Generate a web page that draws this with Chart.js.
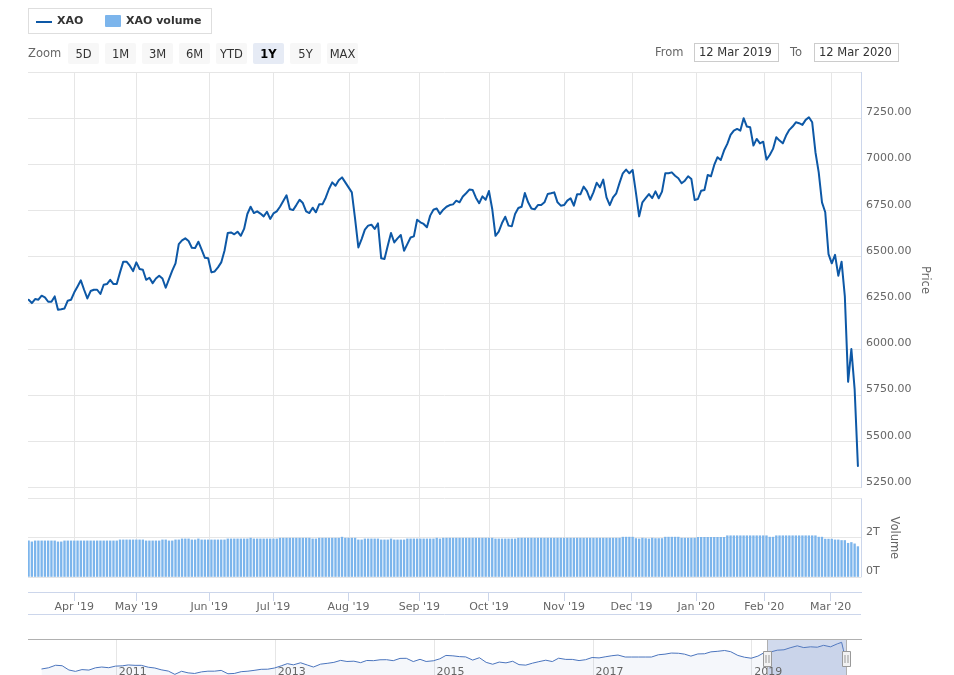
<!DOCTYPE html>
<html lang="en">
<head>
  <meta charset="UTF-8" />
  <meta name="viewport" content="width=device-width, initial-scale=1.0"/>
  <title>XAO - 1Y</title>
  <script src="https://cdn.jsdelivr.net/npm/chart.js"></script>
  <style>
    html, body { margin: 0; padding: 0; background: #fff; overflow: hidden; }
    body { width: 954px; height: 675px; position: relative; font-family: "DejaVu Sans", Verdana, sans-serif; }
    .abs { position: absolute; }
    #legend { left: 28px; top: 8px; width: 184px; height: 26px; border: 1px solid #dedede; box-sizing: border-box;
              font-size: 11px; font-weight: bold; color: #333; }
    #legend .sw-line { position: absolute; left: 7px; top: 12px; width: 16px; height: 2px; }
    #legend .sw-box { position: absolute; left: 76px; top: 6px; width: 16px; height: 12px; border-radius: 1px; }
    #legend .lt { position: absolute; top: 5px; line-height: 14px; white-space: nowrap; }
    #zoomLbl { left: 28px; top: 46px; font-size: 11.5px; color: #666; line-height: 14px; }
    #buttons { left: 68px; top: 43px; display: flex; gap: 6px; }
    #buttons .btn { width: 31px; height: 21px; background: #f7f7f7; color: #333; font-size: 11.5px;
                    display: flex; align-items: center; justify-content: center; border-radius: 2px; }
    #buttons .btn.sel { background: #e6ebf5; color: #000; font-weight: bold; }
    .rlbl { top: 45px; font-size: 11.5px; color: #666; line-height: 14px; }
    .rbox { top: 43px; width: 85px; height: 19px; border: 1px solid #cccccc; box-sizing: border-box;
            font-size: 11.5px; color: #333; line-height: 17px; padding-left: 4px; }
    #mainWrap { left: 0; top: 0; width: 954px; height: 620px; }
    #navWrap { left: 0; top: 630px; width: 954px; height: 50px; }
  </style>
</head>
<body>
  <div id="mainWrap" class="abs"><canvas id="main"></canvas></div>
  <div id="navWrap" class="abs"><canvas id="nav"></canvas></div>

  <div id="legend" class="abs"></div>
  <div id="zoomLbl" class="abs">Zoom</div>
  <div id="buttons" class="abs"></div>
  <div class="abs rlbl" style="left:655px">From</div>
  <div id="fromBox" class="abs rbox" style="left:694px"></div>
  <div class="abs rlbl" style="left:790px">To</div>
  <div id="toBox" class="abs rbox" style="left:814px"></div>

  <script>
    // ---------- data ----------
    const seriesNames = ['XAO', 'XAO volume'];
    const rangeButtons = ['5D', '1M', '3M', '6M', 'YTD', '1Y', '5Y', 'MAX'];
    const selectedRange = '1Y';
    const rangeFrom = '2019-03-12';
    const rangeTo = '2020-03-12';

    // days the ASX was closed inside the range
    const asxHolidays = ['2019-04-19', '2019-04-22', '2019-04-25', '2019-06-10',
                         '2019-12-25', '2019-12-26', '2020-01-01', '2020-01-27'];

    const monthStarts = ['2019-04-01', '2019-05-01', '2019-06-01', '2019-07-01', '2019-08-01', '2019-09-01',
                         '2019-10-01', '2019-11-01', '2019-12-01', '2020-01-01', '2020-02-01', '2020-03-01'];
    const monthLabels = ["Apr '19", "May '19", "Jun '19", "Jul '19", "Aug '19", "Sep '19",
                         "Oct '19", "Nov '19", "Dec '19", "Jan '20", "Feb '20", "Mar '20"];

    const priceTicks = [5250, 5500, 5750, 6000, 6250, 6500, 6750, 7000, 7250, 7500];
    const volumeTicks = [0, 2, 4]; // trillions

    // daily close, one per trading day
    const xaoClose = [
      6268, 6250, 6272, 6268, 6290, 6281, 6257, 6257, 6286, 6214,
      6217, 6221, 6263, 6268, 6308, 6340, 6373, 6322, 6275, 6315,
      6322, 6322, 6299, 6349, 6353, 6376, 6353, 6353, 6416, 6474,
      6474, 6452, 6423, 6470, 6434, 6430, 6376, 6387, 6358, 6383,
      6398, 6383, 6333, 6380, 6425, 6465, 6569, 6589, 6600, 6586,
      6549, 6548, 6582, 6539, 6495, 6492, 6416, 6421, 6443, 6470,
      6533, 6629, 6632, 6622, 6636, 6614, 6651, 6732, 6771, 6737,
      6746, 6734, 6719, 6744, 6705, 6735, 6746, 6771, 6802, 6833,
      6759, 6753, 6780, 6809, 6791, 6746, 6737, 6766, 6741, 6784,
      6784, 6820, 6867, 6903, 6885, 6914, 6930, 6903, 6876, 6849,
      6705, 6551, 6596, 6647, 6669, 6674, 6651, 6681, 6492, 6488,
      6560, 6629, 6578, 6600, 6618, 6533, 6569, 6605, 6611, 6701,
      6687, 6678, 6660, 6723, 6755, 6762, 6732, 6755, 6771, 6780,
      6784, 6804, 6795, 6827, 6844, 6864, 6862, 6820, 6790, 6827,
      6809, 6856, 6759, 6614, 6636, 6683, 6717, 6669, 6665, 6732,
      6764, 6771, 6845, 6795, 6762, 6757, 6780, 6780, 6795, 6840,
      6844, 6849, 6795, 6777, 6780, 6804, 6817, 6777, 6838, 6838,
      6880, 6856, 6809, 6849, 6901, 6876, 6918, 6822, 6780, 6822,
      6844, 6900, 6952, 6972, 6952, 6970, 6849, 6719, 6795, 6818,
      6840, 6818, 6854, 6817, 6853, 6952, 6952, 6957, 6939, 6925,
      6898, 6912, 6936, 6921, 6808, 6813, 6858, 6862, 6943, 6936,
      6997, 7039, 7024, 7075, 7111, 7160, 7183, 7192, 7183, 7250,
      7205, 7201, 7102, 7138, 7114, 7123, 7026, 7051, 7084, 7147,
      7129, 7114, 7156, 7187, 7205, 7228, 7223, 7214, 7241, 7255,
      7228, 7066, 6957, 6795, 6741, 6515, 6465, 6511, 6398, 6474,
      6286, 5824, 6001, 5784, 5369
    ];

    // volume in trillions, one per trading day
    const xaoVolume = [
      1.86, 1.81, 1.86, 1.86, 1.86, 1.86, 1.86, 1.86, 1.86, 1.81,
      1.81, 1.86, 1.86, 1.86, 1.86, 1.86, 1.86, 1.86, 1.86, 1.86,
      1.86, 1.86, 1.86, 1.86, 1.86, 1.86, 1.86, 1.86, 1.91, 1.91,
      1.91, 1.91, 1.91, 1.91, 1.91, 1.91, 1.86, 1.86, 1.86, 1.86,
      1.86, 1.91, 1.91, 1.86, 1.86, 1.91, 1.91, 1.96, 1.96, 1.96,
      1.91, 1.91, 1.96, 1.91, 1.91, 1.91, 1.91, 1.91, 1.91, 1.91,
      1.91, 1.96, 1.96, 1.96, 1.96, 1.96, 1.96, 1.96, 2.00, 1.96,
      1.96, 1.96, 1.96, 1.96, 1.96, 1.96, 1.96, 2.00, 2.00, 2.00,
      2.00, 2.00, 2.00, 2.00, 2.00, 2.00, 2.00, 1.96, 1.96, 2.00,
      2.00, 2.00, 2.00, 2.00, 2.00, 2.00, 2.05, 2.00, 2.00, 2.00,
      2.00, 1.91, 1.91, 1.96, 1.96, 1.96, 1.96, 1.96, 1.91, 1.91,
      1.91, 1.96, 1.91, 1.91, 1.91, 1.91, 1.96, 1.96, 1.96, 1.96,
      1.96, 1.96, 1.96, 1.96, 1.96, 2.00, 1.96, 2.00, 2.00, 2.00,
      2.00, 2.00, 2.00, 2.00, 2.00, 2.00, 2.00, 2.00, 2.00, 2.00,
      2.00, 2.00, 2.00, 1.96, 1.96, 1.96, 1.96, 1.96, 1.96, 1.96,
      2.00, 2.00, 2.00, 2.00, 2.00, 2.00, 2.00, 2.00, 2.00, 2.00,
      2.00, 2.00, 2.00, 2.00, 2.00, 2.00, 2.00, 2.00, 2.00, 2.00,
      2.00, 2.00, 2.00, 2.00, 2.00, 2.00, 2.00, 2.00, 2.00, 2.00,
      2.00, 2.00, 2.05, 2.05, 2.05, 2.05, 1.98, 1.96, 2.00, 1.98,
      1.96, 2.00, 1.98, 1.98, 1.98, 2.05, 2.05, 2.05, 2.05, 2.05,
      2.00, 2.00, 2.00, 2.00, 2.00, 2.04, 2.04, 2.04, 2.04, 2.04,
      2.04, 2.04, 2.04, 2.04, 2.12, 2.12, 2.12, 2.12, 2.12, 2.12,
      2.12, 2.12, 2.12, 2.12, 2.12, 2.12, 2.12, 2.05, 2.05, 2.12,
      2.12, 2.12, 2.12, 2.12, 2.12, 2.12, 2.12, 2.12, 2.12, 2.12,
      2.12, 2.12, 2.05, 2.05, 1.95, 1.95, 1.95, 1.91, 1.91, 1.88,
      1.88, 1.74, 1.78, 1.71, 1.57
    ];

    // navigator: 10 year history, roughly monthly
    const navDates = [
      '2010-01-25', '2010-02-26', '2010-03-31', '2010-04-30', '2010-05-31', '2010-06-30',
      '2010-07-30', '2010-08-31', '2010-09-30', '2010-10-29', '2010-11-30', '2010-12-31',
      '2011-01-31', '2011-02-28', '2011-03-31', '2011-04-29', '2011-05-31', '2011-06-30',
      '2011-07-29', '2011-08-31', '2011-09-30', '2011-10-31', '2011-11-30', '2011-12-30',
      '2012-01-31', '2012-02-29', '2012-03-30', '2012-04-30', '2012-05-31', '2012-06-29',
      '2012-07-31', '2012-08-31', '2012-09-28', '2012-10-31', '2012-11-30', '2012-12-31',
      '2013-01-31', '2013-02-28', '2013-03-28', '2013-04-30', '2013-05-31', '2013-06-28',
      '2013-07-31', '2013-08-30', '2013-09-30', '2013-10-31', '2013-11-29', '2013-12-31',
      '2014-01-31', '2014-02-28', '2014-03-31', '2014-04-30', '2014-05-30', '2014-06-30',
      '2014-07-31', '2014-08-29', '2014-09-30', '2014-10-31', '2014-11-28', '2014-12-31',
      '2015-01-30', '2015-02-27', '2015-03-31', '2015-04-30', '2015-05-29', '2015-06-30',
      '2015-07-31', '2015-08-31', '2015-09-30', '2015-10-30', '2015-11-30', '2015-12-31',
      '2016-01-29', '2016-02-29', '2016-03-31', '2016-04-29', '2016-05-31', '2016-06-30',
      '2016-07-29', '2016-08-31', '2016-09-30', '2016-10-31', '2016-11-30', '2016-12-30',
      '2017-01-31', '2017-02-28', '2017-03-31', '2017-04-28', '2017-05-31', '2017-06-30',
      '2017-07-31', '2017-08-31', '2017-09-29', '2017-10-31', '2017-11-30', '2017-12-29',
      '2018-01-31', '2018-02-28', '2018-03-29', '2018-04-30', '2018-05-31', '2018-06-29',
      '2018-07-31', '2018-08-31', '2018-09-28', '2018-10-31', '2018-11-30', '2018-12-31',
      '2019-01-31', '2019-02-28', '2019-03-29', '2019-04-30', '2019-05-31', '2019-06-28',
      '2019-07-31', '2019-08-30', '2019-09-30', '2019-10-31', '2019-11-29', '2019-12-31',
      '2020-01-31', '2020-02-20', '2020-02-28', '2020-03-12'
    ];
    const navValues = [
      4560, 4680, 4940, 4890, 4460, 4320, 4500, 4450, 4680, 4760, 4690, 4850,
      4880, 4970, 4930, 4930, 4740, 4660, 4480, 4350, 4020, 4330, 4170, 4110,
      4270, 4340, 4340, 4420, 4080, 4110, 4290, 4340, 4420, 4530, 4540, 4660,
      4880, 5100, 4980, 5190, 4960, 4760, 5050, 5130, 5230, 5430, 5320, 5350,
      5200, 5420, 5400, 5490, 5500, 5400, 5630, 5640, 5310, 5540, 5320, 5390,
      5590, 5930, 5890, 5810, 5780, 5460, 5700, 5230, 5040, 5260, 5180, 5340,
      5000, 4950, 5150, 5300, 5450, 5310, 5650, 5530, 5530, 5410, 5500, 5720,
      5680, 5790, 5900, 5970, 5770, 5770, 5770, 5770, 5770, 6000, 6060, 6170,
      6150, 6060, 5860, 6080, 6100, 6290, 6350, 6430, 6310, 5930, 5750, 5650,
      5860, 6200, 6270, 6460, 6500, 6700, 6900, 6720, 6800, 6760, 6950, 6800,
      7100, 7255, 6500, 5360
    ];
    const navYears = [2011, 2013, 2015, 2017, 2019];

    // ---------- styling ----------
    const LINE_COLOR = '#0d58a6';
    const VOL_COLOR = '#7cb5ec';
    const GRID = '#e6e6e6';
    const AXIS = '#ccd6eb';
    const FONT = '"DejaVu Sans", Verdana, sans-serif';
    Chart.defaults.font.family = FONT;
    Chart.defaults.font.size = 11;
    Chart.defaults.color = '#666';

    // ---------- html bits ----------
    const legend = document.getElementById('legend');
    legend.innerHTML =
      '<span class="sw-line" style="background:' + LINE_COLOR + '"></span>' +
      '<span class="lt" style="left:28px">' + seriesNames[0] + '</span>' +
      '<span class="sw-box" style="background:' + VOL_COLOR + '"></span>' +
      '<span class="lt" style="left:97px">' + seriesNames[1] + '</span>';

    const btnRow = document.getElementById('buttons');
    rangeButtons.forEach(b => {
      const el = document.createElement('div');
      el.className = 'btn' + (b === selectedRange ? ' sel' : '');
      el.textContent = b;
      btnRow.appendChild(el);
    });

    const MONTHS = ['Jan', 'Feb', 'Mar', 'Apr', 'May', 'Jun', 'Jul', 'Aug', 'Sep', 'Oct', 'Nov', 'Dec'];
    function fmtDate(s) {
      const d = new Date(s);
      return d.getUTCDate() + ' ' + MONTHS[d.getUTCMonth()] + ' ' + d.getUTCFullYear();
    }
    document.getElementById('fromBox').textContent = fmtDate(rangeFrom);
    document.getElementById('toBox').textContent = fmtDate(rangeTo);

    // ---------- trading day axis (ordinal, like the stock chart) ----------
    const DAY = 86400000;
    const tradingDays = [];
    for (let t = Date.parse(rangeFrom); t <= Date.parse(rangeTo); t += DAY) {
      const d = new Date(t);
      const wd = d.getUTCDay();
      if (wd === 0 || wd === 6) continue;
      if (asxHolidays.includes(d.toISOString().slice(0, 10))) continue;
      tradingDays.push(t);
    }
    // month start -> position on the ordinal axis (in between days if closed)
    function ordinalPos(s) {
      const t = Date.parse(s);
      for (let i = 0; i < tradingDays.length; i++) {
        if (tradingDays[i] === t) return i;
        if (tradingDays[i] > t) {
          const t0 = tradingDays[i - 1];
          return i - 1 + (t - t0) / (tradingDays[i] - t0);
        }
      }
      return tradingDays.length - 1;
    }
    const monthPos = monthStarts.map(ordinalPos);

    const priceData = xaoClose.map((v, i) => ({ x: i, y: v }));
    const volData = xaoVolume.map((v, i) => ({ x: i, y: v }));

    // gridlines that stop at the volume pane, axis lines, pane titles, volume labels
    const paneDecor = {
      id: 'paneDecor',
      beforeDatasetsDraw(chart) {
        const { ctx, chartArea, scales: { x, yVol } } = chart;
        const bottom = yVol.getPixelForValue(0);
        ctx.save();
        ctx.strokeStyle = GRID;
        ctx.lineWidth = 1;
        x.ticks.forEach(t => {
          const px = Math.round(x.getPixelForValue(t.value)) + 0.5;
          ctx.beginPath();
          ctx.moveTo(px, chartArea.top);
          ctx.lineTo(px, bottom);
          ctx.stroke();
        });
        ctx.restore();
      },
      afterDraw(chart) {
        const { ctx, chartArea, scales: { x, yPrice, yVol } } = chart;
        const pTop = yPrice.getPixelForValue(priceTicks[priceTicks.length - 1]);
        const pBot = yPrice.getPixelForValue(priceTicks[0]);
        const vTop = yVol.getPixelForValue(volumeTicks[volumeTicks.length - 1]);
        const vBot = yVol.getPixelForValue(0);
        const rx = Math.round(chartArea.right) + 0.5;
        ctx.save();
        ctx.strokeStyle = AXIS;
        ctx.lineWidth = 1;
        ctx.beginPath();
        ctx.moveTo(rx, pTop); ctx.lineTo(rx, pBot);
        ctx.moveTo(rx, vTop); ctx.lineTo(rx, vBot);
        const by = Math.round(x.bottom) + 0.5;
        ctx.moveTo(chartArea.left, by); ctx.lineTo(chartArea.right, by);
        ctx.stroke();

        // volume tick labels, same column as the price labels
        ctx.fillStyle = '#666';
        ctx.font = '11px ' + FONT;
        ctx.textAlign = 'left';
        ctx.textBaseline = 'middle';
        volumeTicks.slice(0, -1).forEach(v => {
          ctx.fillText(v + 'T', chartArea.right + 5, yVol.getPixelForValue(v) - 6);
        });

        ctx.font = '11.5px ' + FONT;
        ctx.textAlign = 'center';
        [['Price', 64, (pTop + pBot) / 2], ['Volume', 33, (vTop + vBot) / 2]].forEach(([txt, dx, cy]) => {
          ctx.save();
          ctx.translate(chartArea.right + dx, cy);
          ctx.rotate(Math.PI / 2);
          ctx.fillText(txt, 0, 0);
          ctx.restore();
        });
        ctx.restore();
      }
    };

    new Chart(document.getElementById('main'), {
      type: 'line',
      data: {
        datasets: [
          {
            type: 'line',
            label: seriesNames[0],
            data: priceData,
            yAxisID: 'yPrice',
            borderColor: LINE_COLOR,
            borderWidth: 2,
            borderJoinStyle: 'round',
            borderCapStyle: 'round',
            pointRadius: 0,
            tension: 0,
            order: 1
          },
          {
            type: 'bar',
            label: seriesNames[1],
            data: volData,
            yAxisID: 'yVol',
            backgroundColor: VOL_COLOR,
            barPercentage: 0.72,
            categoryPercentage: 1,
            order: 2
          }
        ]
      },
      options: {
        responsive: true,
        maintainAspectRatio: false,
        animation: false,
        events: [],
        layout: { padding: { left: 28, top: 72, right: 0, bottom: 6 } },
        plugins: { legend: { display: false }, tooltip: { enabled: false } },
        scales: {
          x: {
            type: 'linear',
            offset: false,
            min: -0.18,
            max: 254.95,
            afterBuildTicks: s => { s.ticks = monthPos.map(v => ({ value: v })); },
            afterFit: s => { s.height = 22; },
            grid: { offset: false, drawOnChartArea: false, drawTicks: true, tickLength: 9, color: AXIS },
            border: { display: true, color: AXIS },
            ticks: {
              autoSkip: false,
              maxRotation: 0,
              padding: 0,
              color: '#666',
              callback: (v, i) => monthLabels[i]
            }
          },
          yPrice: {
            type: 'linear',
            position: 'right',
            min: 4687,
            max: 7500,
            afterBuildTicks: s => { s.ticks = priceTicks.map(v => ({ value: v })); },
            afterFit: s => { s.width = 93; },
            grid: { color: GRID, drawTicks: false },
            border: { display: false },
            ticks: {
              padding: 5,
              labelOffset: -6,
              color: '#666',
              callback: v => (v === 7500 ? '' : v.toFixed(2))
            }
          },
          yVol: {
            type: 'linear',
            position: 'right',
            min: -0.744,
            max: 25.585,
            afterBuildTicks: s => { s.ticks = volumeTicks.map(v => ({ value: v })); },
            afterFit: s => { s.width = 0; },
            grid: { color: GRID, drawTicks: false },
            border: { display: false },
            ticks: { display: false }
          }
        }
      },
      plugins: [paneDecor]
    });

    // ---------- navigator ----------
    const navDecor = {
      id: 'navDecor',
      beforeDatasetsDraw(chart) {
        const { ctx, chartArea: a, scales: { x } } = chart;
        ctx.save();
        ctx.strokeStyle = GRID;
        ctx.lineWidth = 1;
        navYears.forEach(y => {
          const px = Math.round(x.getPixelForValue(Date.UTC(y, 0, 1))) + 0.5;
          ctx.beginPath();
          ctx.moveTo(px, a.top);
          ctx.lineTo(px, a.bottom);
          ctx.stroke();
        });
        ctx.restore();
      },
      afterDatasetsDraw(chart) {
        const { ctx, chartArea: a, scales: { x } } = chart;
        const x0 = Math.round(x.getPixelForValue(Date.parse(rangeFrom))) + 0.5;
        const x1 = Math.round(x.getPixelForValue(Date.parse(rangeTo))) + 0.5;
        const top = Math.round(a.top) + 0.5;
        const mid = Math.round((a.top + a.bottom) / 2);
        ctx.save();
        ctx.fillStyle = 'rgba(102,133,194,0.3)';
        ctx.fillRect(x0, a.top, x1 - x0, a.bottom - a.top);

        ctx.fillStyle = '#666';
        ctx.font = '11px ' + FONT;
        ctx.textAlign = 'left';
        ctx.textBaseline = 'alphabetic';
        navYears.forEach(y => {
          const px = x.getPixelForValue(Date.UTC(y, 0, 1));
          ctx.fillText(String(y), px + 3, a.bottom - 4);
        });

        ctx.strokeStyle = '#b0b0b0';
        ctx.lineWidth = 1;
        ctx.beginPath();
        ctx.moveTo(a.left, top); ctx.lineTo(a.right + 1, top);
        ctx.moveTo(x0, top); ctx.lineTo(x0, a.bottom);
        ctx.moveTo(x1, top); ctx.lineTo(x1, a.bottom);
        ctx.stroke();

        [x0, x1].forEach(hx => {
          ctx.fillStyle = '#f2f2f2';
          ctx.strokeStyle = '#999';
          ctx.beginPath();
          ctx.rect(hx - 4, mid - 7.5, 8, 15);
          ctx.fill();
          ctx.stroke();
          ctx.beginPath();
          ctx.moveTo(hx - 1.5, mid - 4); ctx.lineTo(hx - 1.5, mid + 4);
          ctx.moveTo(hx + 1.5, mid - 4); ctx.lineTo(hx + 1.5, mid + 4);
          ctx.stroke();
        });
        ctx.restore();
      }
    };

    new Chart(document.getElementById('nav'), {
      type: 'line',
      data: {
        datasets: [{
          data: navDates.map((d, i) => ({ x: Date.parse(d), y: navValues[i] })),
          borderColor: '#4a74bd',
          borderWidth: 1,
          backgroundColor: 'rgba(51,92,173,0.05)',
          fill: 'start',
          pointRadius: 0,
          tension: 0
        }]
      },
      options: {
        responsive: true,
        maintainAspectRatio: false,
        animation: false,
        events: [],
        layout: { padding: { left: 28, right: 93, top: 9, bottom: 1 } },
        plugins: { legend: { display: false }, tooltip: { enabled: false } },
        scales: {
          x: { type: 'linear', display: false, min: Date.parse('2009-11-24'), max: Date.parse('2020-05-19') },
          y: { type: 'linear', display: false, min: 3550, max: 7590 }
        }
      },
      plugins: [navDecor]
    });
  </script>
</body>
</html>
